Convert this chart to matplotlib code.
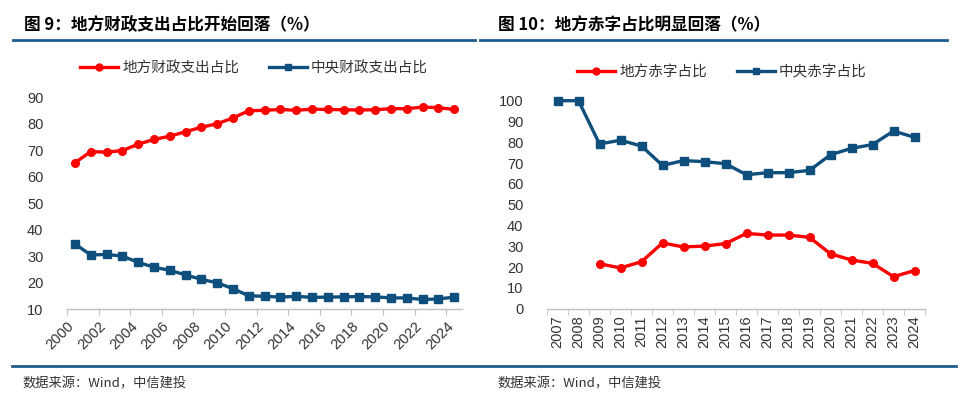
import matplotlib
matplotlib.use("Agg")
import matplotlib.pyplot as plt
import numpy as np
from matplotlib.lines import Line2D

plt.rcParams["font.family"] = ["Noto Sans CJK SC", "DejaVu Sans"]

# ---- 图9 数据 ----
年份9 = list(range(2000, 2025))
地方支出 = [65.3, 69.5, 69.3, 69.9, 72.3, 74.1, 75.3, 77.0, 78.7, 80.0, 82.2, 84.9, 85.1,
           85.4, 85.1, 85.5, 85.4, 85.3, 85.2, 85.3, 85.7, 85.7, 86.3, 86.1, 85.4]
中央支出 = [34.7, 30.5, 30.7, 30.1, 27.7, 25.9, 24.7, 23.0, 21.3, 20.0, 17.8, 15.1, 14.9,
           14.6, 14.9, 14.5, 14.6, 14.7, 14.8, 14.7, 14.3, 14.3, 13.7, 13.9, 14.6]

# ---- 图10 数据 ----
年份10 = list(range(2007, 2025))
地方赤字 = [np.nan, np.nan, 21.6, 19.6, 22.6, 31.6, 29.7, 30.1, 31.3, 36.2, 35.4, 35.4,
           34.3, 26.4, 23.4, 21.8, 15.4, 18.3]
中央赤字 = [100, 100, 79.2, 81.0, 78.2, 68.9, 71.2, 70.7, 69.7, 64.4, 65.4, 65.4,
           66.5, 74.0, 77.1, 78.9, 85.4, 82.4]

红 = "#FF0000"
蓝 = "#0E4F7D"
线蓝 = "#1F5C8E"
灰字 = "#333333"
轴灰 = "#BFBFBF"
数字体 = ["Liberation Sans", "DejaVu Sans"]

fig = plt.figure(figsize=(9.6, 4.01), dpi=100)
W, H = 960, 401


def 框(x0, y0, x1, y1):
    return [x0 / W, 1 - y1 / H, (x1 - x0) / W, (y1 - y0) / H]


def 样式(ax):
    for s in ("top", "right", "left"):
        ax.spines[s].set_visible(False)
    ax.spines["bottom"].set_color(轴灰)
    ax.spines["bottom"].set_linewidth(1.0)
    ax.tick_params(axis="y", length=0, pad=17, labelsize=10.5, labelcolor=灰字)
    ax.tick_params(axis="x", length=4, color=轴灰, labelsize=10.5, labelcolor=灰字)
    for t in ax.get_yticklabels():
        t.set_fontfamily(数字体)


# ---- 左图 ----
ax1 = fig.add_axes(框(67, 97.3, 462, 309.3))
x9 = np.arange(len(年份9))
ax1.plot(x9, 地方支出, color=红, lw=2.4, marker="o", ms=5.5, zorder=3, clip_on=False)
ax1.plot(x9, 中央支出, color=蓝, lw=2.4, marker="s", ms=5.5, zorder=3, clip_on=False)
ax1.set_xlim(-0.5, len(年份9) - 0.5)
ax1.set_ylim(10, 90)
ax1.set_yticks(range(10, 91, 10))
pos = np.arange(0, len(年份9), 2) - 0.5
ax1.set_xticks(pos)
ax1.set_xticklabels([str(年份9[i]) for i in range(0, len(年份9), 2)],
                    rotation=45, ha="right", rotation_mode="anchor", family=数字体)
样式(ax1)
ax1.tick_params(axis="x", pad=3)

# ---- 右图 ----
ax2 = fig.add_axes(框(547, 100.7, 925, 308.7))
x10 = np.arange(len(年份10))
ax2.plot(x10, 地方赤字, color=红, lw=2.4, marker="o", ms=5.5, zorder=3, clip_on=False)
ax2.plot(x10, 中央赤字, color=蓝, lw=2.4, marker="s", ms=5.5, zorder=3, clip_on=False)
ax2.set_xlim(-0.5, len(年份10) - 0.5)
ax2.set_ylim(0, 100)
ax2.set_yticks(range(0, 101, 10))
ax2.set_xticks(x10)
ax2.set_xticklabels([str(y) for y in 年份10], rotation=90, family=数字体)
ax2.set_xticks(np.arange(-0.5, len(年份10), 1), minor=True)
样式(ax2)
ax2.tick_params(axis="x", which="major", length=0, pad=5)
ax2.tick_params(axis="x", which="minor", length=4, color=轴灰)

# ---- 图例 ----
def 图例(名, 锚):
    柄 = [Line2D([], [], color=红, lw=2.4, marker="o", ms=5),
         Line2D([], [], color=蓝, lw=2.4, marker="s", ms=5)]
    lg = fig.legend(柄, 名, loc="center", bbox_to_anchor=锚, ncol=2, frameon=False,
                    fontsize=10.5, handlelength=2.6, handletextpad=0.3, columnspacing=2.0)
    for t in lg.get_texts():
        t.set_color(灰字)


图例(["地方财政支出占比", "中央财政支出占比"], (254 / W, 1 - 68 / H))
图例(["地方赤字占比", "中央赤字占比"], (722 / W, 1 - 72 / H))

# ---- 标题与分隔线 ----
fig.text(24 / W, 1 - 25 / H, "图 9：地方财政支出占比开始回落（%）", fontsize=12,
         fontweight="bold", va="center", ha="left")
fig.text(498 / W, 1 - 25 / H, "图 10：地方赤字占比明显回落（%）", fontsize=12,
         fontweight="bold", va="center", ha="left")
fig.add_artist(Line2D([13 / W, 475 / W], [1 - 40 / H] * 2, color=线蓝, lw=2))
fig.add_artist(Line2D([480 / W, 947 / W], [1 - 40 / H] * 2, color=线蓝, lw=2))
fig.add_artist(Line2D([12 / W, 956 / W], [1 - 366 / H] * 2, color=线蓝, lw=2))

fig.text(22 / W, 1 - 384 / H, "数据来源：Wind，中信建投", fontsize=9.5, color=灰字,
         style="italic", va="center", ha="left")
fig.text(497 / W, 1 - 384 / H, "数据来源：Wind，中信建投", fontsize=9.5, color=灰字,
         style="italic", va="center", ha="left")

fig.savefig("out.png", dpi=100)
